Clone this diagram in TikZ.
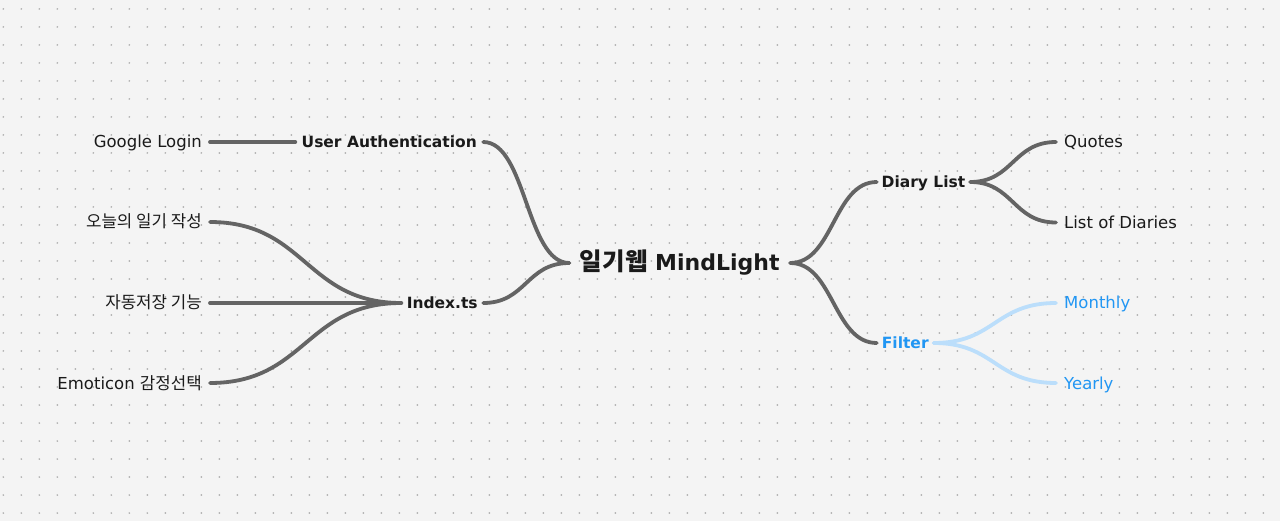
\documentclass[tikz,border=0pt]{standalone}
\usepackage{fontspec}
\setmainfont{DejaVu Sans}
\newfontfamily\kr{Noto Sans CJK KR}
\usetikzlibrary{calc}
\definecolor{bg}{HTML}{F4F4F4}
\definecolor{dotc}{HTML}{B0B0B0}
\definecolor{ink}{HTML}{1A1A1A}
\definecolor{linec}{HTML}{646464}
\definecolor{bluet}{HTML}{2196F3}
\definecolor{bluel}{HTML}{BBDEFB}
\begin{document}
\begin{tikzpicture}[x=1pt,y=-1pt,
  lbl/.style={inner ysep=0pt, inner xsep=8pt, text height=12pt, text depth=0pt,
    font=\fontsize{16.5}{18}\selectfont, text=ink},
  krlbl/.style={lbl, font=\fontsize{16.8}{18}\selectfont\kr},
  bold/.style={lbl, inner xsep=3pt, text height=11.3pt, font=\fontsize{15.5}{18}\selectfont\bfseries},
  hub/.style={lbl, inner xsep=2pt, text height=16pt, font=\fontsize{22}{26}\selectfont\bfseries},
  gline/.style={draw=linec, line width=3.8pt, line cap=round},
  bline/.style={draw=bluel, line width=3.8pt, line cap=round},
  curvy/.style={to path={let \p1=(\tikztostart), \p2=(\tikztotarget) in
    (\tikztostart) .. controls ({(\x1+\x2)/2},\y1) and ({(\x1+\x2)/2},\y2) .. (\tikztotarget) \tikztonodes}}
]
% background and dot grid
\fill[bg] (0,0) rectangle (1280,521);
\useasboundingbox (0,0) rectangle (1280,521);
\foreach \i in {0,...,70}{
  \foreach \j in {0,...,28}{
    \fill[dotc] ({3.3+18*\i},{9+18*\j}) circle (0.95);
  }
}
% nodes
\node[lbl, anchor=east] (google) at (210,142) {Google Login};
\node[bold, minimum width=187.5pt] (auth) at (389.25,142) {User Authentication};
\node[krlbl, anchor=east] (today) at (210,222) {오늘의 일기 작성};
\node[krlbl, anchor=east] (autosave) at (210,303) {자동저장 기능};
\node[lbl, anchor=east] (emoticon) at (210,383) {Emoticon {\fontsize{16.8}{18}\selectfont\kr 감정선택}};
\node[bold, minimum width=81.5pt] (index) at (442.25,303) {Index.ts};
\node[hub, minimum width=220.5pt] (center) at (679.75,263) {{\fontsize{24.5}{26}\selectfont\kr\bfseries 일기웹} MindLight};
\node[bold, minimum width=93pt] (diary) at (923.5,182) {Diary List};
\node[bold, minimum width=56.5pt, text=bluet] (filter) at (905.25,343) {Filter};
\node[lbl, anchor=west] (quotes) at (1056,142) {Quotes};
\node[lbl, anchor=west] (list) at (1056,222.5) {List of Diaries};
\node[lbl, anchor=west, text=bluet] (monthly) at (1056,303) {Monthly};
\node[lbl, anchor=west, text=bluet] (yearly) at (1056,383) {Yearly};
% connectors
\draw[gline] (google.east) -- (auth.west);
\draw[gline] (auth.east) to[curvy] (center.west);
\draw[gline] (index.east) to[curvy] (center.west);
\draw[gline] (today.east) to[curvy] (index.west);
\draw[gline] (autosave.east) to[curvy] (index.west);
\draw[gline] (emoticon.east) to[curvy] (index.west);
\draw[gline] (center.east) to[curvy] (diary.west);
\draw[gline] (center.east) to[curvy] (filter.west);
\draw[gline] (diary.east) to[curvy] (quotes.west);
\draw[gline] (diary.east) to[curvy] (list.west);
\draw[bline] (filter.east) to[curvy] (monthly.west);
\draw[bline] (filter.east) to[curvy] (yearly.west);
\end{tikzpicture}
\end{document}
